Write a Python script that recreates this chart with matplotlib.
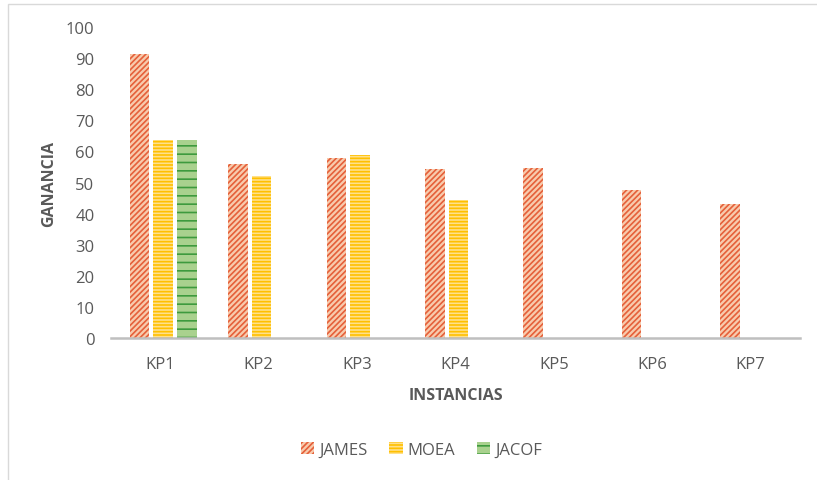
import matplotlib
matplotlib.use("Agg")
import matplotlib.pyplot as plt
import numpy as np
from matplotlib.patches import Rectangle

categories = ["KP1", "KP2", "KP3", "KP4", "KP5", "KP6", "KP7"]
james = [91.3, 56.0, 57.8, 54.2, 54.7, 47.6, 43.1]
moea = [63.7, 52.1, 58.9, 44.3, 0, 0, 0]
jacof = [63.7, 0, 0, 0, 0, 0, 0]

plt.rcParams['font.family'] = ['Open Sans', 'DejaVu Sans']
plt.rcParams['hatch.linewidth'] = 1.2
grey = '#595959'

fig = plt.figure(figsize=(8.17, 4.81), dpi=100)
ax = fig.add_axes([0.136, 0.295, 0.843, 0.647])

x = np.arange(len(categories))
w = 0.2
step = 0.24

ax.bar(x - step + 0.03, james, w, facecolor='#F8CBAD', edgecolor='#E5603A', hatch='//////',
       linewidth=0, label='JAMES')
ax.bar(x + 0.03, moea, w, facecolor='#FFE08A', edgecolor='#FFC000', hatch='-----',
       linewidth=0, label='MOEA')
ax.bar(x + step + 0.03, jacof, w, facecolor='#A9D18E', edgecolor='#3E9A3E', hatch='--',
       linewidth=0, label='JACOF')

ax.set_xlim(-0.5, len(categories) - 0.5)
ax.set_ylim(0, 100)
ax.set_yticks(range(0, 101, 10))
ax.set_xticks(x)
ax.set_xticklabels(categories)
ax.tick_params(axis='both', length=0, labelsize=12, colors=grey)
ax.tick_params(axis='y', pad=12)
ax.tick_params(axis='x', pad=13)

for s in ['top', 'right', 'left']:
    ax.spines[s].set_visible(False)
ax.spines['bottom'].set_color('#BFBFBF')
ax.spines['bottom'].set_linewidth(1.8)

ax.set_ylabel('GANANCIA', fontsize=11.5, fontweight='bold', color=grey, labelpad=6)
ax.set_xlabel('INSTANCIAS', fontsize=11.5, fontweight='bold', color=grey, labelpad=11)

ax.legend(loc='center', bbox_to_anchor=(0.516, 0.063), bbox_transform=fig.transFigure,
          ncol=3, frameon=False, fontsize=12, labelcolor=grey, handlelength=0.8,
          handleheight=0.8, handletextpad=0.3, columnspacing=1.3)

fig.patches.append(Rectangle((0.01, -0.05), 1.1, 1.04, transform=fig.transFigure,
                             fill=False, edgecolor='#D9D9D9', linewidth=1))

fig.savefig('out.png', dpi=100)
